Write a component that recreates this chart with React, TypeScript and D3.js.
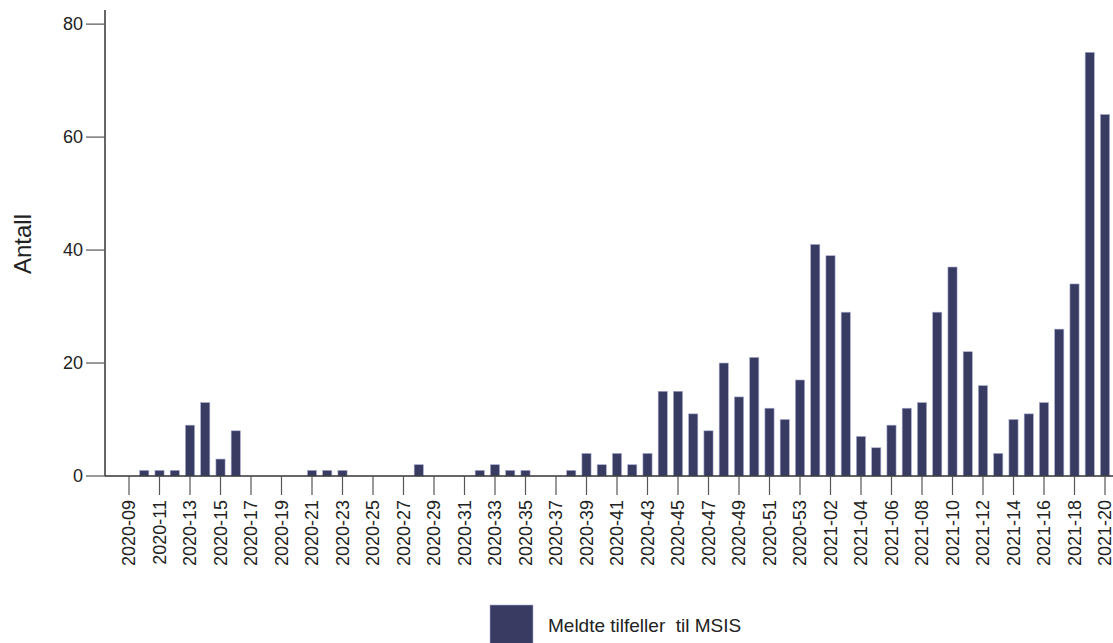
import React, { useEffect, useRef } from 'react';
import * as d3 from 'd3';

// weeks 2020-09 .. 2020-53 and 2021-01 .. 2021-20
const weeks2020 = d3.range(9, 54).map(w => `2020-${String(w).padStart(2, '0')}`);
const weeks2021 = d3.range(1, 21).map(w => `2021-${String(w).padStart(2, '0')}`);
const weeks = [...weeks2020, ...weeks2021];

const cases2020 = [
  0, 1, 1, 1, 9, 13, 3, 8, 0, 0, 0, 0, 1, 1, 1, 0, 0, 0, 0, 2, 0, 0, 0,
  1, 2, 1, 1, 0, 0, 1, 4, 2, 4, 2, 4, 15, 15, 11, 8, 20, 14, 21, 12, 10, 17,
];
const cases2021 = [
  41, 39, 29, 7, 5, 9, 12, 13, 29, 37, 22, 16, 4, 10, 11, 13, 26, 34, 75, 64,
];
const cases = [...cases2020, ...cases2021];

const yTicks = [0, 20, 40, 60, 80];
const legendLabel = 'Meldte tilfeller  til MSIS';
const yLabel = 'Antall';

export default function App() {
  const svgRef = useRef<SVGSVGElement>(null);

  useEffect(() => {
    if (!svgRef.current) return;
    const svg = d3.select(svgRef.current);
    svg.selectAll('*').remove();

    const width = 1113;
    const height = 643;
    const font = '"Liberation Sans", Arial, sans-serif';
    const barColor = '#383b62';

    const x = d3.scalePoint<string>().domain(weeks).range([129, 1105]);
    const y = d3.scaleLinear().domain([0, 82.5]).range([476, 10]);
    const bw = x.step() * 0.6;

    svg.attr('width', width).attr('height', height);

    // bars
    svg.append('g')
      .selectAll('rect')
      .data(cases)
      .enter()
      .append('rect')
      .attr('x', (_, i) => (x(weeks[i]) as number) - bw / 2)
      .attr('y', d => y(d))
      .attr('width', bw)
      .attr('height', d => y(0) - y(d))
      .attr('fill', barColor)
      .attr('stroke', '#a9abd0')
      .attr('stroke-width', 0.6);

    // y axis
    svg.append('line')
      .attr('x1', 105).attr('x2', 105)
      .attr('y1', 10).attr('y2', y(0))
      .attr('stroke', '#333').attr('stroke-width', 1.5);

    const yt = svg.append('g').selectAll('g').data(yTicks).enter().append('g');
    yt.append('line')
      .attr('x1', 86).attr('x2', 105)
      .attr('y1', d => y(d)).attr('y2', d => y(d))
      .attr('stroke', '#555').attr('stroke-width', 1.2);
    yt.append('text')
      .attr('x', 83)
      .attr('y', d => y(d))
      .attr('dy', '0.35em')
      .attr('text-anchor', 'end')
      .style('font-family', font)
      .style('font-size', '18px')
      .style('fill', '#222')
      .text(d => d);

    svg.append('text')
      .attr('transform', `translate(31,${244}) rotate(-90)`)
      .attr('text-anchor', 'middle')
      .style('font-family', font)
      .style('font-size', '24px')
      .style('fill', '#222')
      .text(yLabel);

    // x axis
    svg.append('line')
      .attr('x1', 105).attr('x2', width)
      .attr('y1', y(0)).attr('y2', y(0))
      .attr('stroke', '#333').attr('stroke-width', 1.5);

    const xLabels = weeks.filter((_, i) => i % 2 === 0);
    const xt = svg.append('g').selectAll('g').data(xLabels).enter().append('g')
      .attr('transform', d => `translate(${x(d)},0)`);
    xt.append('line')
      .attr('y1', y(0)).attr('y2', 495)
      .attr('stroke', '#555').attr('stroke-width', 1.2);
    xt.append('text')
      .attr('transform', 'translate(0,500) rotate(-90)')
      .attr('dy', '0.35em')
      .attr('text-anchor', 'end')
      .style('font-family', font)
      .style('font-size', '18px')
      .style('fill', '#222')
      .text(d => d);

    // legend
    svg.append('rect')
      .attr('x', 490).attr('y', 605)
      .attr('width', 43).attr('height', 43)
      .attr('fill', barColor)
      .attr('stroke', '#a9abd0')
      .attr('stroke-width', 0.6);
    svg.append('text')
      .attr('x', 548).attr('y', 625)
      .attr('dy', '0.35em')
      .style('font-family', font)
      .style('font-size', '19px')
      .style('fill', '#222')
      .style('white-space', 'pre')
      .text(legendLabel);
  }, []);

  return (
    <svg
      ref={svgRef}
      style={{ position: 'absolute', left: 0, top: 0, background: '#fff' }}
    />
  );
}
